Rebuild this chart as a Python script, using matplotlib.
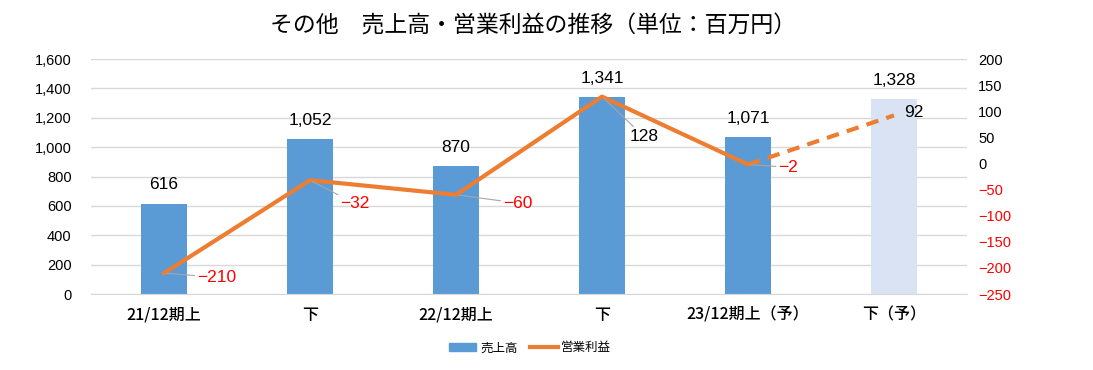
import matplotlib.pyplot as plt
import numpy as np
from matplotlib.patches import Patch
from matplotlib.lines import Line2D

plt.rcParams['font.family'] = ['Noto Sans CJK JP', 'DejaVu Sans']

periods = ['21/12期上', '下', '22/12期上', '下', '23/12期上（予）', '下（予）']
sales = [616, 1052, 870, 1341, 1071, 1328]
profit = [-210, -32, -60, 128, -2, 92]

bar_colors = ['#5B9BD5'] * 5 + ['#DAE3F3']
orange = '#ED7D31'
grid_c = '#D9D9D9'
num_font = ['Liberation Sans', 'DejaVu Sans']

fig = plt.figure(figsize=(10.93, 3.70), dpi=100)
ax1 = fig.add_axes([0.0833, 0.2054, 0.8014, 0.6351])
ax2 = ax1.twinx()

x = np.arange(len(periods))
ax1.bar(x, sales, width=0.32, color=bar_colors, zorder=2)
ax1.set_xlim(-0.5, len(periods) - 0.5)
ax1.set_ylim(0, 1600)
ax1.set_yticks(range(0, 1601, 200))
ax1.set_yticklabels([f'{v:,}' for v in range(0, 1601, 200)], fontsize=10.5, family=num_font)
ax1.yaxis.grid(True, color=grid_c, lw=1, zorder=0)
ax1.set_axisbelow(True)
ax1.set_xticks(x)
ax1.set_xticklabels(periods, fontsize=11.5, fontweight='medium')
ax1.tick_params(axis='x', length=0, pad=9)
ax1.tick_params(axis='y', length=0, pad=14)
for s in ax1.spines.values():
    s.set_visible(False)
ax1.spines['bottom'].set_visible(True)
ax1.spines['bottom'].set_color(grid_c)

for xi, v in zip(x, sales):
    ax1.annotate(f'{v:,}', (xi, v), xytext=(0, 8), textcoords='offset points',
                 ha='center', va='bottom', fontsize=12.5, family=num_font)

# 営業利益
ax2.plot(x[:5], profit[:5], color=orange, lw=3, zorder=3)
ax2.plot(x[4:], profit[4:], color=orange, lw=3, ls=(0, (3, 2)), zorder=3)
ax2.set_ylim(-250, 200)
rticks = list(range(-250, 201, 50))
ax2.set_yticks(rticks)
ax2.set_yticklabels([str(t).replace('-', '−') for t in rticks], fontsize=10.5, family=num_font)
for lab, t in zip(ax2.get_yticklabels(), rticks):
    lab.set_color('red' if t < 0 else 'black')
ax2.tick_params(axis='y', length=0, pad=8)
for s in ax2.spines.values():
    s.set_visible(False)

# label offsets in points (style only)
offs = [(24, -3), (22, -17), (34, -6), (20, -29), (22, -2), (7, 2)]
leaders = [True, True, True, True, True, False]
for xi, v, (dx, dy), ld in zip(x, profit, offs, leaders):
    txt = str(v).replace('-', '−')
    col = 'red' if v < 0 else 'black'
    ap = dict(arrowstyle='-', color='#A6A6A6', lw=0.8, shrinkA=0, shrinkB=2) if ld else None
    ax2.annotate(txt, (xi, v), xytext=(dx, dy), textcoords='offset points',
                 ha='left', va='center', fontsize=12.5, color=col,
                 family=num_font, arrowprops=ap)

fig.suptitle('その他　売上高・営業利益の推移（単位：百万円）', x=0.488, y=0.96, fontsize=16.5)

handles = [Patch(color='#5B9BD5'), Line2D([0], [0], color=orange, lw=3)]
fig.legend(handles, ['売上高', '営業利益'], loc='center', bbox_to_anchor=(0.485, 0.06),
           ncol=2, frameon=False, fontsize=9, handlelength=2.2, columnspacing=1.0,
           handletextpad=0.3)

fig.savefig('out.png', dpi=100)
